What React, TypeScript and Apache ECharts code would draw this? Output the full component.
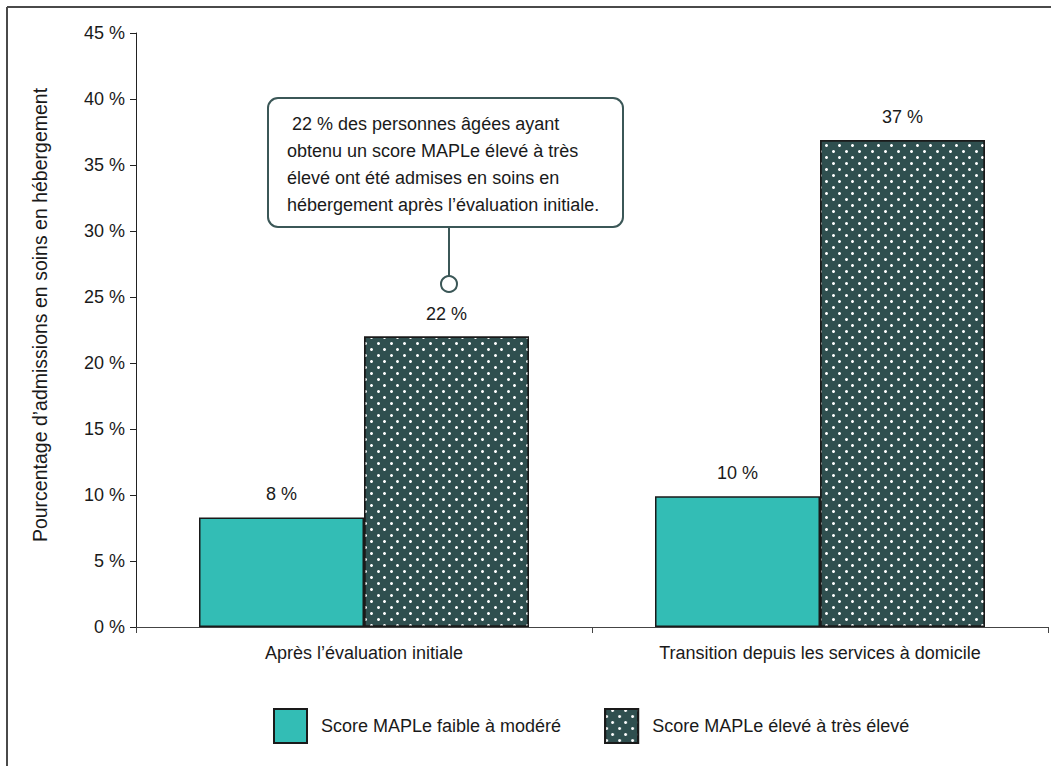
import React, { useEffect, useRef } from "react";
import * as echarts from "echarts";

// Categories and values (percent of admissions to long-term care)
const categories = ["Après l’évaluation initiale", "Transition depuis les services à domicile"];
const seriesNames = ["Score MAPLe faible à modéré", "Score MAPLe élevé à très élevé"];
const lowModerate = [8.3, 9.9];
const highVeryHigh = [22, 36.9];
const yTicks = { min: 0, max: 45, interval: 5 };

const yTitle = "Pourcentage d’admissions en soins en hébergement";
const calloutLines = [
  " 22 % des personnes âgées ayant",
  "obtenu un score MAPLe élevé à très",
  "élevé ont été admises en soins en",
  "hébergement après l’évaluation initiale.",
];

const FONT = "'Liberation Sans', Arial, sans-serif";
const TEAL = "#33bdb5";
const DARK = "#2f4f4f";
const INK = "#1a1a1a";

export default function App() {
  const ref = useRef<HTMLDivElement>(null);

  useEffect(() => {
    document.body.style.margin = "0";
    if (!ref.current) return;
    const chart = echarts.init(ref.current, undefined, { renderer: "svg" });

    const valueLabel = {
      show: true,
      position: "top",
      distance: 14,
      fontFamily: FONT,
      fontSize: 18,
      color: INK,
      formatter: (p: any) => `${Math.round(p.value)} %`,
    };

    chart.setOption({
      animation: false,
      textStyle: { fontFamily: FONT },
      grid: { left: 136, right: 3, top: 33, bottom: 139 },
      legend: {
        left: 273,
        top: 708,
        padding: 0,
        itemWidth: 33,
        itemHeight: 34,
        itemGap: 43,
        icon: "rect",
        textStyle: { fontFamily: FONT, fontSize: 18, color: INK, padding: [0, 0, 0, 9] },
        data: seriesNames,
      },
      xAxis: {
        type: "category",
        data: categories,
        axisLine: { lineStyle: { color: "#444", width: 1 } },
        axisTick: { show: true, alignWithLabel: false, length: 6, lineStyle: { color: "#444" } },
        axisLabel: { fontFamily: FONT, fontSize: 18, color: INK, margin: 17 },
      },
      yAxis: {
        type: "value",
        min: yTicks.min,
        max: yTicks.max,
        interval: yTicks.interval,
        splitLine: { show: false },
        axisLine: { show: true, lineStyle: { color: "#222", width: 1 } },
        axisTick: { show: true, length: 6, lineStyle: { color: "#222" } },
        axisLabel: { fontFamily: FONT, fontSize: 18, color: INK, margin: 11, formatter: "{value} %" },
      },
      series: [
        {
          name: seriesNames[0],
          type: "bar",
          data: lowModerate,
          barWidth: 165,
          barGap: "0%",
          itemStyle: { color: TEAL, borderColor: INK, borderWidth: 1.5 },
          label: valueLabel,
        },
        {
          name: seriesNames[1],
          type: "bar",
          data: highVeryHigh,
          barWidth: 165,
          barGap: "0%",
          itemStyle: {
            color: DARK,
            borderColor: INK,
            borderWidth: 1.5,
            decal: {
              symbol: "circle",
              symbolSize: 1,
              color: "#ffffff",
              dashArrayX: [
                [3, 10],
                [0, 6, 3, 4],
              ],
              dashArrayY: [3, 3],
              rotation: 0,
            },
          },
          label: valueLabel,
        },
      ],
      graphic: [
        // page frame (top and left rules)
        { type: "line", shape: { x1: 7, y1: 7, x2: 1051, y2: 7 }, style: { stroke: "#4a4a4a", lineWidth: 2 } },
        { type: "line", shape: { x1: 7, y1: 7, x2: 7, y2: 766 }, style: { stroke: "#4a4a4a", lineWidth: 2 } },
        // vertical axis title
        {
          type: "text",
          x: 40,
          y: 315,
          rotation: Math.PI / 2,
          style: {
            text: yTitle,
            fontFamily: FONT,
            fontSize: 19.5,
            fill: INK,
            align: "center",
            verticalAlign: "middle",
          },
        },
        // callout
        {
          type: "rect",
          shape: { x: 268, y: 98, width: 355, height: 129, r: 10 },
          style: { fill: "#ffffff", stroke: "#3b5757", lineWidth: 2 },
        },
        {
          type: "text",
          x: 287,
          y: 110,
          style: {
            text: calloutLines.join("\n"),
            fontFamily: FONT,
            fontSize: 18,
            lineHeight: 27,
            fill: INK,
            align: "left",
            verticalAlign: "top",
          },
        },
        { type: "line", shape: { x1: 449, y1: 227, x2: 449, y2: 276 }, style: { stroke: "#3b5757", lineWidth: 2 } },
        { type: "circle", shape: { cx: 449, cy: 284, r: 8 }, style: { fill: "#ffffff", stroke: "#3b5757", lineWidth: 2 } },
      ],
    });

    return () => chart.dispose();
  }, []);

  return <div ref={ref} style={{ width: 1051, height: 766 }} />;
}
